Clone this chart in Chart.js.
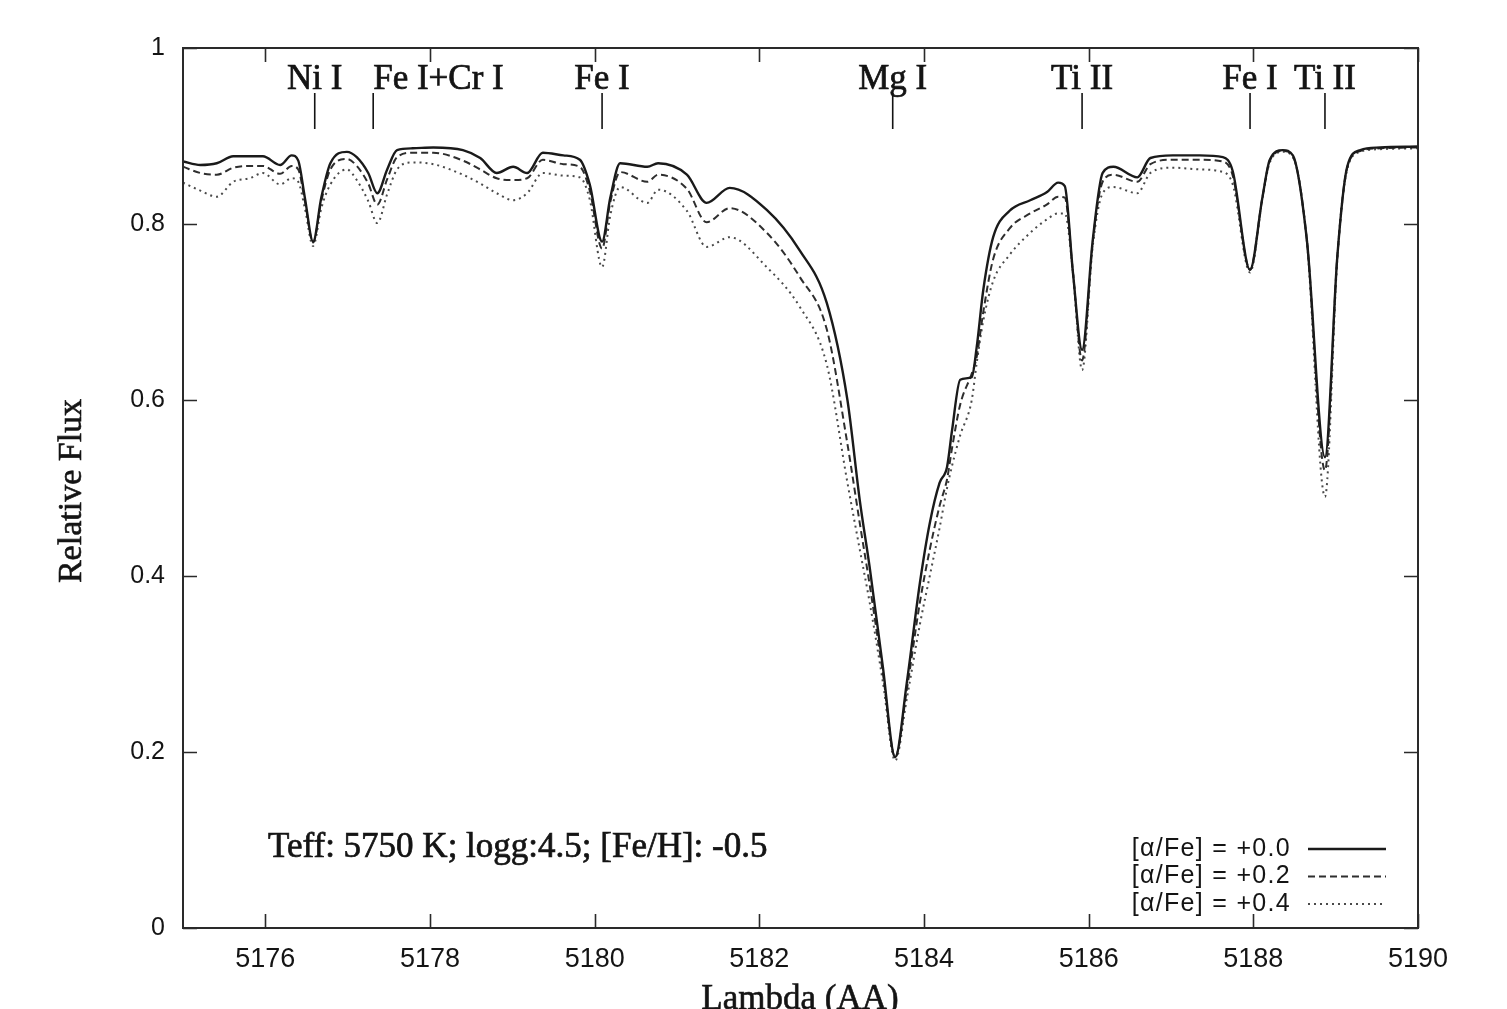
<!DOCTYPE html>
<html>
<head>
<meta charset="utf-8">
<title>Relative Flux vs Lambda</title>
<script src="https://cdn.jsdelivr.net/npm/chart.js@4.4.1/dist/chart.umd.min.js"></script>
<style>
  html, body { margin: 0; padding: 0; background: #fff; }
  #wrap { width: 1507px; height: 1009px; position: relative; overflow: hidden; }
</style>
</head>
<body>
<div id="wrap"><canvas id="spec" width="1507" height="1009"></canvas></div>
<script>
// Wavelength grid (Angstrom) shared by the three synthetic spectra
const lambda = [
  5175.00, 5175.21, 5175.41, 5175.61, 5175.81, 5175.97, 5176.18, 5176.32, 5176.40, 5176.48,
  5176.58, 5176.68, 5176.79, 5176.99, 5177.11, 5177.25, 5177.36, 5177.48, 5177.60, 5177.79,
  5178.04, 5178.40, 5178.61, 5178.81, 5179.01, 5179.18, 5179.37, 5179.62, 5179.82, 5179.94,
  5180.09, 5180.19, 5180.31, 5180.64, 5180.77, 5181.12, 5181.36, 5181.64, 5182.09, 5182.49,
  5182.82, 5183.07, 5183.22, 5183.34, 5183.50, 5183.65, 5183.79, 5183.95, 5184.07, 5184.19,
  5184.28, 5184.34, 5184.44, 5184.58, 5184.64, 5184.72, 5184.84, 5185.04, 5185.29, 5185.49,
  5185.63, 5185.71, 5185.81, 5185.92, 5186.05, 5186.17, 5186.30, 5186.59, 5186.75, 5187.02,
  5187.35, 5187.63, 5187.75, 5187.96, 5188.11, 5188.20, 5188.36, 5188.48, 5188.65, 5188.87,
  5189.02, 5189.14, 5189.30, 5189.54, 5190.00
];

// [alpha/Fe] = +0.0
const flux00 = [
  0.871, 0.867, 0.869, 0.877, 0.877, 0.877, 0.867, 0.878, 0.872, 0.830,
  0.780, 0.830, 0.869, 0.882, 0.876, 0.858, 0.835, 0.862, 0.884, 0.886,
  0.887, 0.884, 0.875, 0.858, 0.865, 0.858, 0.881, 0.878, 0.873, 0.845,
  0.780, 0.830, 0.869, 0.865, 0.869, 0.856, 0.824, 0.841, 0.816, 0.770,
  0.710, 0.600, 0.486, 0.410, 0.297, 0.194, 0.278, 0.392, 0.460, 0.506,
  0.524, 0.565, 0.623, 0.626, 0.660, 0.725, 0.785, 0.815, 0.827, 0.836,
  0.847, 0.843, 0.744, 0.657, 0.782, 0.858, 0.865, 0.853, 0.875, 0.878,
  0.878, 0.876, 0.860, 0.748, 0.830, 0.873, 0.884, 0.878, 0.782, 0.535,
  0.763, 0.865, 0.884, 0.887, 0.888
];

// [alpha/Fe] = +0.2
const flux02 = [
  0.865, 0.858, 0.856, 0.864, 0.866, 0.866, 0.857, 0.866, 0.862, 0.826,
  0.779, 0.826, 0.862, 0.874, 0.866, 0.846, 0.822, 0.851, 0.876, 0.881,
  0.881, 0.872, 0.862, 0.852, 0.850, 0.852, 0.873, 0.868, 0.865, 0.838,
  0.772, 0.825, 0.859, 0.848, 0.856, 0.840, 0.802, 0.818, 0.790, 0.740,
  0.680, 0.550, 0.460, 0.390, 0.290, 0.194, 0.270, 0.370, 0.430, 0.480,
  0.510, 0.545, 0.595, 0.630, 0.649, 0.700, 0.760, 0.795, 0.812, 0.822,
  0.831, 0.830, 0.744, 0.645, 0.780, 0.848, 0.856, 0.848, 0.868, 0.873,
  0.873, 0.871, 0.855, 0.748, 0.830, 0.872, 0.883, 0.877, 0.782, 0.520,
  0.763, 0.864, 0.883, 0.886, 0.887
];

// [alpha/Fe] = +0.4
const flux04 = [
  0.847, 0.838, 0.831, 0.848, 0.852, 0.858, 0.845, 0.852, 0.848, 0.818,
  0.775, 0.818, 0.845, 0.862, 0.850, 0.826, 0.801, 0.834, 0.862, 0.870,
  0.868, 0.856, 0.846, 0.835, 0.827, 0.835, 0.858, 0.855, 0.853, 0.828,
  0.751, 0.810, 0.842, 0.824, 0.839, 0.815, 0.774, 0.785, 0.751, 0.706,
  0.640, 0.506, 0.430, 0.370, 0.280, 0.190, 0.260, 0.345, 0.400, 0.455,
  0.500, 0.525, 0.560, 0.600, 0.642, 0.690, 0.735, 0.765, 0.790, 0.805,
  0.812, 0.812, 0.744, 0.634, 0.775, 0.835, 0.842, 0.835, 0.858, 0.864,
  0.862, 0.859, 0.845, 0.745, 0.828, 0.870, 0.882, 0.876, 0.780, 0.490,
  0.760, 0.862, 0.882, 0.885, 0.886
];

const seriesLabels = ['[\u03b1/Fe] = +0.0', '[\u03b1/Fe] = +0.2', '[\u03b1/Fe] = +0.4'];

// Line identifications
const lineNames = ['Ni I', 'Fe I+Cr I', 'Fe I', 'Mg I', 'Ti II', 'Fe I', 'Ti II'];
const lineWaves = [5176.60, 5177.31, 5180.09, 5183.62, 5185.92, 5187.96, 5188.87];

const modelText = 'Teff: 5750 K; logg:4.5; [Fe/H]: -0.5';

const SERIF = '"Liberation Serif", "DejaVu Serif", serif';
const SANS = '"Liberation Sans", Arial, sans-serif';
const INK = '#141414';

function toPoints(ys) {
  return lambda.map((l, i) => ({ x: l, y: ys[i] }));
}

const styles = [
  { color: '#1a1a1a', width: 2.4, dash: [] },
  { color: '#2e2e2e', width: 2, dash: [7, 4] },
  { color: '#4a4a4a', width: 2, dash: [2, 4] }
];

const datasets = [flux00, flux02, flux04].map((ys, i) => ({
  label: seriesLabels[i],
  data: toPoints(ys),
  borderColor: styles[i].color,
  borderWidth: styles[i].width,
  borderDash: styles[i].dash,
  pointRadius: 0,
  fill: false,
  cubicInterpolationMode: 'monotone'
}));

// fill + thin stroke so the serif text is a bit heavier
function heavyText(ctx, s, x, y) {
  ctx.fillText(s, x, y);
  ctx.strokeText(s, x, y);
}

// frame, inward ticks, line ids, annotation and gnuplot-like key
const decorations = {
  id: 'decorations',
  afterDraw(chart) {
    const { ctx, chartArea: a, scales: { x, y } } = chart;
    ctx.save();

    // border
    ctx.strokeStyle = '#2a2a2a';
    ctx.lineWidth = 2;
    ctx.strokeRect(a.left, a.top, a.width, a.height);

    // mirrored inward ticks
    const tl = 14;
    ctx.lineWidth = 1.6;
    ctx.beginPath();
    x.ticks.forEach(t => {
      const px = Math.round(x.getPixelForValue(t.value)) + 0.5;
      ctx.moveTo(px, a.bottom); ctx.lineTo(px, a.bottom - tl);
      ctx.moveTo(px, a.top); ctx.lineTo(px, a.top + tl);
    });
    y.ticks.forEach(t => {
      const py = Math.round(y.getPixelForValue(t.value)) + 0.5;
      ctx.moveTo(a.left, py); ctx.lineTo(a.left + tl, py);
      ctx.moveTo(a.right, py); ctx.lineTo(a.right - tl, py);
    });
    ctx.stroke();

    // spectral line markers
    ctx.fillStyle = INK;
    ctx.strokeStyle = INK;
    ctx.lineWidth = 1.6;
    ctx.beginPath();
    lineWaves.forEach(w => {
      const px = x.getPixelForValue(w);
      ctx.moveTo(px, 93); ctx.lineTo(px, 129);
    });
    ctx.stroke();

    // and their names (blends are left-aligned on the marker)
    ctx.font = '35px ' + SERIF;
    ctx.textBaseline = 'alphabetic';
    ctx.lineWidth = 0.7;
    lineNames.forEach((name, i) => {
      const px = x.getPixelForValue(lineWaves[i]);
      ctx.textAlign = name.indexOf('+') > 0 ? 'left' : 'center';
      heavyText(ctx, name, px, 89);
    });

    // model parameters
    ctx.textAlign = 'left';
    heavyText(ctx, modelText, 268, 857);

    // key: text right-aligned, line sample to the right
    ctx.font = '25px ' + SANS;
    ctx.letterSpacing = '1.3px';
    ctx.textAlign = 'right';
    ctx.textBaseline = 'middle';
    chart.data.datasets.forEach((ds, i) => {
      const yy = 849 + i * 27.5;
      ctx.fillStyle = INK;
      ctx.fillText(ds.label, 1291, yy);
      ctx.strokeStyle = ds.borderColor;
      ctx.lineWidth = ds.borderWidth;
      ctx.setLineDash(ds.borderDash);
      ctx.beginPath();
      ctx.moveTo(1308, yy); ctx.lineTo(1386, yy);
      ctx.stroke();
    });
    ctx.setLineDash([]);
    ctx.letterSpacing = '0px';

    // axis titles
    ctx.fillStyle = INK;
    ctx.strokeStyle = INK;
    ctx.lineWidth = 0.6;
    ctx.font = '35px ' + SERIF;
    ctx.textAlign = 'center';
    ctx.textBaseline = 'middle';
    heavyText(ctx, 'Lambda (AA)', 800, 1000);
    ctx.translate(72, 491);
    ctx.rotate(-Math.PI / 2);
    ctx.font = '34px ' + SERIF;
    heavyText(ctx, 'Relative Flux', 0, 0);

    ctx.restore();
  }
};

new Chart(document.getElementById('spec').getContext('2d'), {
  type: 'line',
  data: { datasets: datasets },
  options: {
    responsive: false,
    animation: false,
    layout: { padding: { left: 0, right: 89, top: 48, bottom: 0 } },
    plugins: {
      legend: { display: false },
      tooltip: { enabled: false }
    },
    scales: {
      x: {
        type: 'linear',
        min: 5175,
        max: 5190,
        grid: { display: false, drawTicks: false },
        border: { display: false },
        ticks: {
          stepSize: 2,
          includeBounds: false,
          padding: 15,
          maxRotation: 0,
          color: INK,
          font: { family: SANS, size: 27 },
          callback: v => String(v)
        },
        afterFit: s => { s.height = 81; }
      },
      y: {
        min: 0,
        max: 1,
        grid: { display: false, drawTicks: false },
        border: { display: false },
        ticks: {
          stepSize: 0.2,
          padding: 18,
          color: INK,
          font: { family: SANS, size: 25 },
          callback: v => String(+v.toFixed(2))
        },
        afterFit: s => { s.width = 183; }
      }
    }
  },
  plugins: [decorations]
});
</script>
</body>
</html>
